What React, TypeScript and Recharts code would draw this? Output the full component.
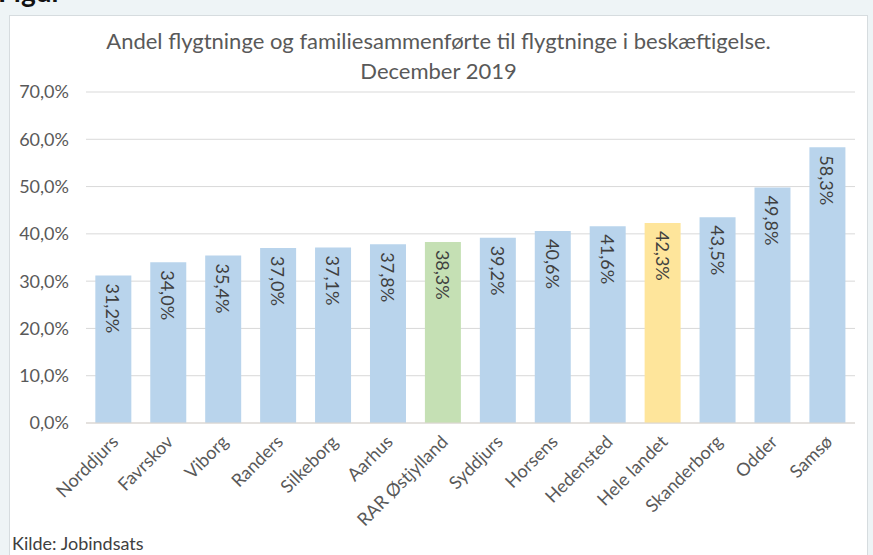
import { BarChart, Bar, XAxis, YAxis, CartesianGrid, Cell, LabelList } from 'recharts'

const categories = [
  'Norddjurs',
  'Favrskov',
  'Viborg',
  'Randers',
  'Silkeborg',
  'Aarhus',
  'RAR Østjylland',
  'Syddjurs',
  'Horsens',
  'Hedensted',
  'Hele landet',
  'Skanderborg',
  'Odder',
  'Samsø',
]
const shares = [31.2, 34.0, 35.4, 37.0, 37.1, 37.8, 38.3, 39.2, 40.6, 41.6, 42.3, 43.5, 49.8, 58.3]
const yTicks = [0, 10, 20, 30, 40, 50, 60, 70]

const titleLines = [
  'Andel flygtninge og familiesammenførte til flygtninge i beskæftigelse.',
  'December 2019',
]
const source = 'Kilde: Jobindsats'

const data = categories.map((name, i) => ({ name, share: shares[i] }))

const FONT = 'Lato, "Open Sans", sans-serif'
const BLUE = '#b9d4ec'
const highlight: Record<string, string> = {
  'RAR Østjylland': '#c5e0b4',
  'Hele landet': '#fee59b',
}

const fmt = (v: number) => v.toFixed(1).replace('.', ',') + '%'

function BarLabel(props: any) {
  const { x, y, width, value } = props
  const cx = x + width / 2
  const ty = y + 8
  return (
    <text
      x={cx}
      y={ty}
      transform={`rotate(90 ${cx} ${ty})`}
      textAnchor="start"
      dominantBaseline="central"
      fill="#404040"
      fontSize={18}
      fontFamily={FONT}
    >
      {fmt(value)}
    </text>
  )
}

function CategoryTick({ x, y, payload }: any) {
  return (
    <g transform={`translate(${x + 6},${y + 12})`}>
      <text
        textAnchor="end"
        transform="rotate(-45)"
        fill="#595959"
        fontSize={18}
        fontFamily={FONT}
      >
        {payload.value}
      </text>
    </g>
  )
}

export default function App() {
  return (
    <div
      style={{
        position: 'relative',
        width: 873,
        height: 555,
        background: '#eef4f6',
        overflow: 'hidden',
        fontFamily: FONT,
      }}
    >
      <style>{'body{margin:0}'}</style>
      <div
        style={{
          position: 'absolute',
          left: -2,
          top: -27,
          fontSize: 28,
          fontWeight: 700,
          color: '#111',
          lineHeight: '36px',
        }}
      >
        Figur
      </div>
      <div
        style={{
          position: 'absolute',
          left: 9,
          top: 15,
          width: 857,
          height: 560,
          background: '#fff',
          border: '1px solid #d6dcdf',
        }}
      />
      <div
        style={{
          position: 'absolute',
          left: 9,
          top: 26,
          width: 859,
          textAlign: 'center',
          color: '#595959',
          fontSize: 22,
          lineHeight: '30px',
        }}
      >
        {titleLines.map((t) => (
          <div key={t}>{t}</div>
        ))}
      </div>
      <div style={{ position: 'absolute', left: 0, top: 0 }}>
        <BarChart
          width={873}
          height={555}
          data={data}
          margin={{ top: 92, right: 18, bottom: 0, left: 0 }}
          barCategoryGap="17%"
        >
          <CartesianGrid vertical={false} stroke="#d9d9d9" />
          <XAxis
            dataKey="name"
            interval={0}
            height={132}
            tick={<CategoryTick />}
            tickLine={false}
            axisLine={{ stroke: '#dcd6d0' }}
          />
          <YAxis
            width={86}
            domain={[0, 70]}
            ticks={yTicks}
            tickFormatter={fmt}
            tick={{ fill: '#595959', fontSize: 18, fontFamily: FONT }}
            tickLine={false}
            axisLine={false}
            tickMargin={11}
          />
          <Bar dataKey="share" isAnimationActive={false}>
            {data.map((d) => (
              <Cell key={d.name} fill={highlight[d.name] ?? BLUE} />
            ))}
            <LabelList dataKey="share" content={<BarLabel />} />
          </Bar>
        </BarChart>
      </div>
      <div
        style={{
          position: 'absolute',
          left: 12,
          top: 532,
          fontSize: 18,
          color: '#404040',
        }}
      >
        {source}
      </div>
    </div>
  )
}
